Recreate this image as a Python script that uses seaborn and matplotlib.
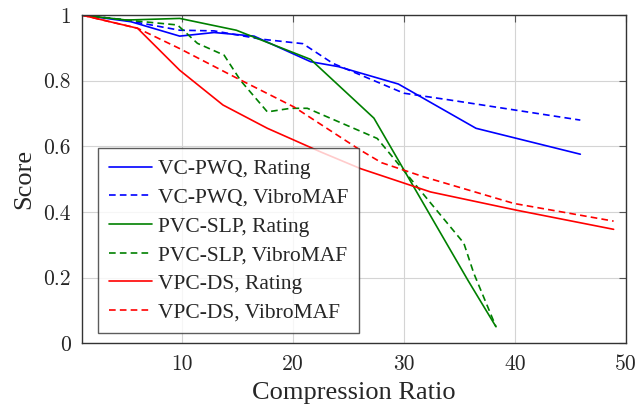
import matplotlib
matplotlib.use("Agg")
import matplotlib.pyplot as plt
import seaborn as sns
import pandas as pd

# Score vs. compression ratio
vc_rating_x = [1, 5.4, 9.8, 12.9, 16.5, 21.6, 24.1, 29.5, 36.5, 45.9]
vc_rating_y = [1.0, 0.98, 0.936, 0.947, 0.936, 0.858, 0.843, 0.79, 0.655, 0.576]
vc_vibro_x = [1, 4.5, 9.8, 12.9, 17.1, 20.9, 23.6, 30.0, 34.0, 45.9]
vc_vibro_y = [1.0, 0.987, 0.954, 0.952, 0.927, 0.913, 0.853, 0.762, 0.742, 0.68]
pvc_rating_x = [1, 5.0, 9.8, 14.9, 21.6, 27.3, 35.8, 38.3]
pvc_rating_y = [1.0, 0.985, 0.99, 0.954, 0.865, 0.686, 0.19, 0.05]
pvc_vibro_x = [1, 5.0, 9.6, 11.4, 13.8, 15.3, 17.7, 19.8, 21.3, 27.6, 35.4, 36.3, 38.3]
pvc_vibro_y = [1.0, 0.985, 0.97, 0.914, 0.878, 0.80, 0.705, 0.716, 0.716, 0.624, 0.305, 0.213, 0.05]
vpc_rating_x = [1, 6.0, 9.8, 13.7, 17.7, 22.5, 26.1, 32.4, 40.2, 48.9]
vpc_rating_y = [1.0, 0.96, 0.832, 0.726, 0.655, 0.583, 0.532, 0.461, 0.405, 0.347]
vpc_vibro_x = [1, 6.0, 9.8, 15.0, 20.1, 26.1, 28.0, 31.8, 39.9, 48.9]
vpc_vibro_y = [1.0, 0.96, 0.898, 0.807, 0.72, 0.588, 0.55, 0.507, 0.426, 0.372]

labels = ['VC-PWQ, Rating', 'VC-PWQ, VibroMAF', 'PVC-SLP, Rating',
          'PVC-SLP, VibroMAF', 'VPC-DS, Rating', 'VPC-DS, VibroMAF']
series = [(vc_rating_x, vc_rating_y), (vc_vibro_x, vc_vibro_y),
          (pvc_rating_x, pvc_rating_y), (pvc_vibro_x, pvc_vibro_y),
          (vpc_rating_x, vpc_rating_y), (vpc_vibro_x, vpc_vibro_y)]

frames = []
for lab, (xs, ys) in zip(labels, series):
    frames.append(pd.DataFrame({'ratio': xs, 'score': ys, 'series': lab}))
df = pd.concat(frames, ignore_index=True)

colors = ['#0000ff', '#0000ff', '#008000', '#008000', '#ff0000', '#ff0000']
palette = dict(zip(labels, colors))
dashes = {lab: ('' if 'Rating' in lab else (4, 2.5)) for lab in labels}

sns.set_style('white')
plt.rcParams['font.family'] = ['Liberation Serif', 'DejaVu Serif']

fig = plt.figure(figsize=(6.36, 4.09), dpi=100)
ax = fig.add_axes([0.129, 0.161, 0.855, 0.802])

sns.lineplot(data=df, x='ratio', y='score', hue='series', style='series',
             palette=palette, dashes=dashes, hue_order=labels, style_order=labels,
             estimator=None, sort=False, linewidth=1.2, ax=ax)

ax.set_xlim(1, 50)
ax.set_ylim(0, 1)
ax.set_xticks([10, 20, 30, 40, 50])
ax.set_yticks([0, 0.2, 0.4, 0.6, 0.8, 1.0])
ax.set_yticklabels(['0', '0.2', '0.4', '0.6', '0.8', '1'])
ax.grid(True, color='#d4d4d4', linewidth=0.8)
ax.set_axisbelow(True)
ax.tick_params(direction='in', length=5, color='#555555', top=True, right=True,
               labelsize=15.5, pad=8)
for lab in ax.get_xticklabels() + ax.get_yticklabels():
    lab.set_fontfamily('cmr10')
for sp in ax.spines.values():
    sp.set_color('#333333')
    sp.set_linewidth(1.0)

ax.set_xlabel('Compression Ratio', fontsize=19, labelpad=6)
ax.set_ylabel('Score', fontsize=19, labelpad=6)

leg = ax.legend(loc='lower left', bbox_to_anchor=(0.029, 0.03), borderaxespad=0,
                fontsize=15.5, frameon=True, fancybox=False, edgecolor='#333333',
                handlelength=2.0, handletextpad=0.3, labelspacing=0.4,
                borderpad=0.5)
leg.get_frame().set_linewidth(1.0)

fig.savefig('out.png', dpi=100)
